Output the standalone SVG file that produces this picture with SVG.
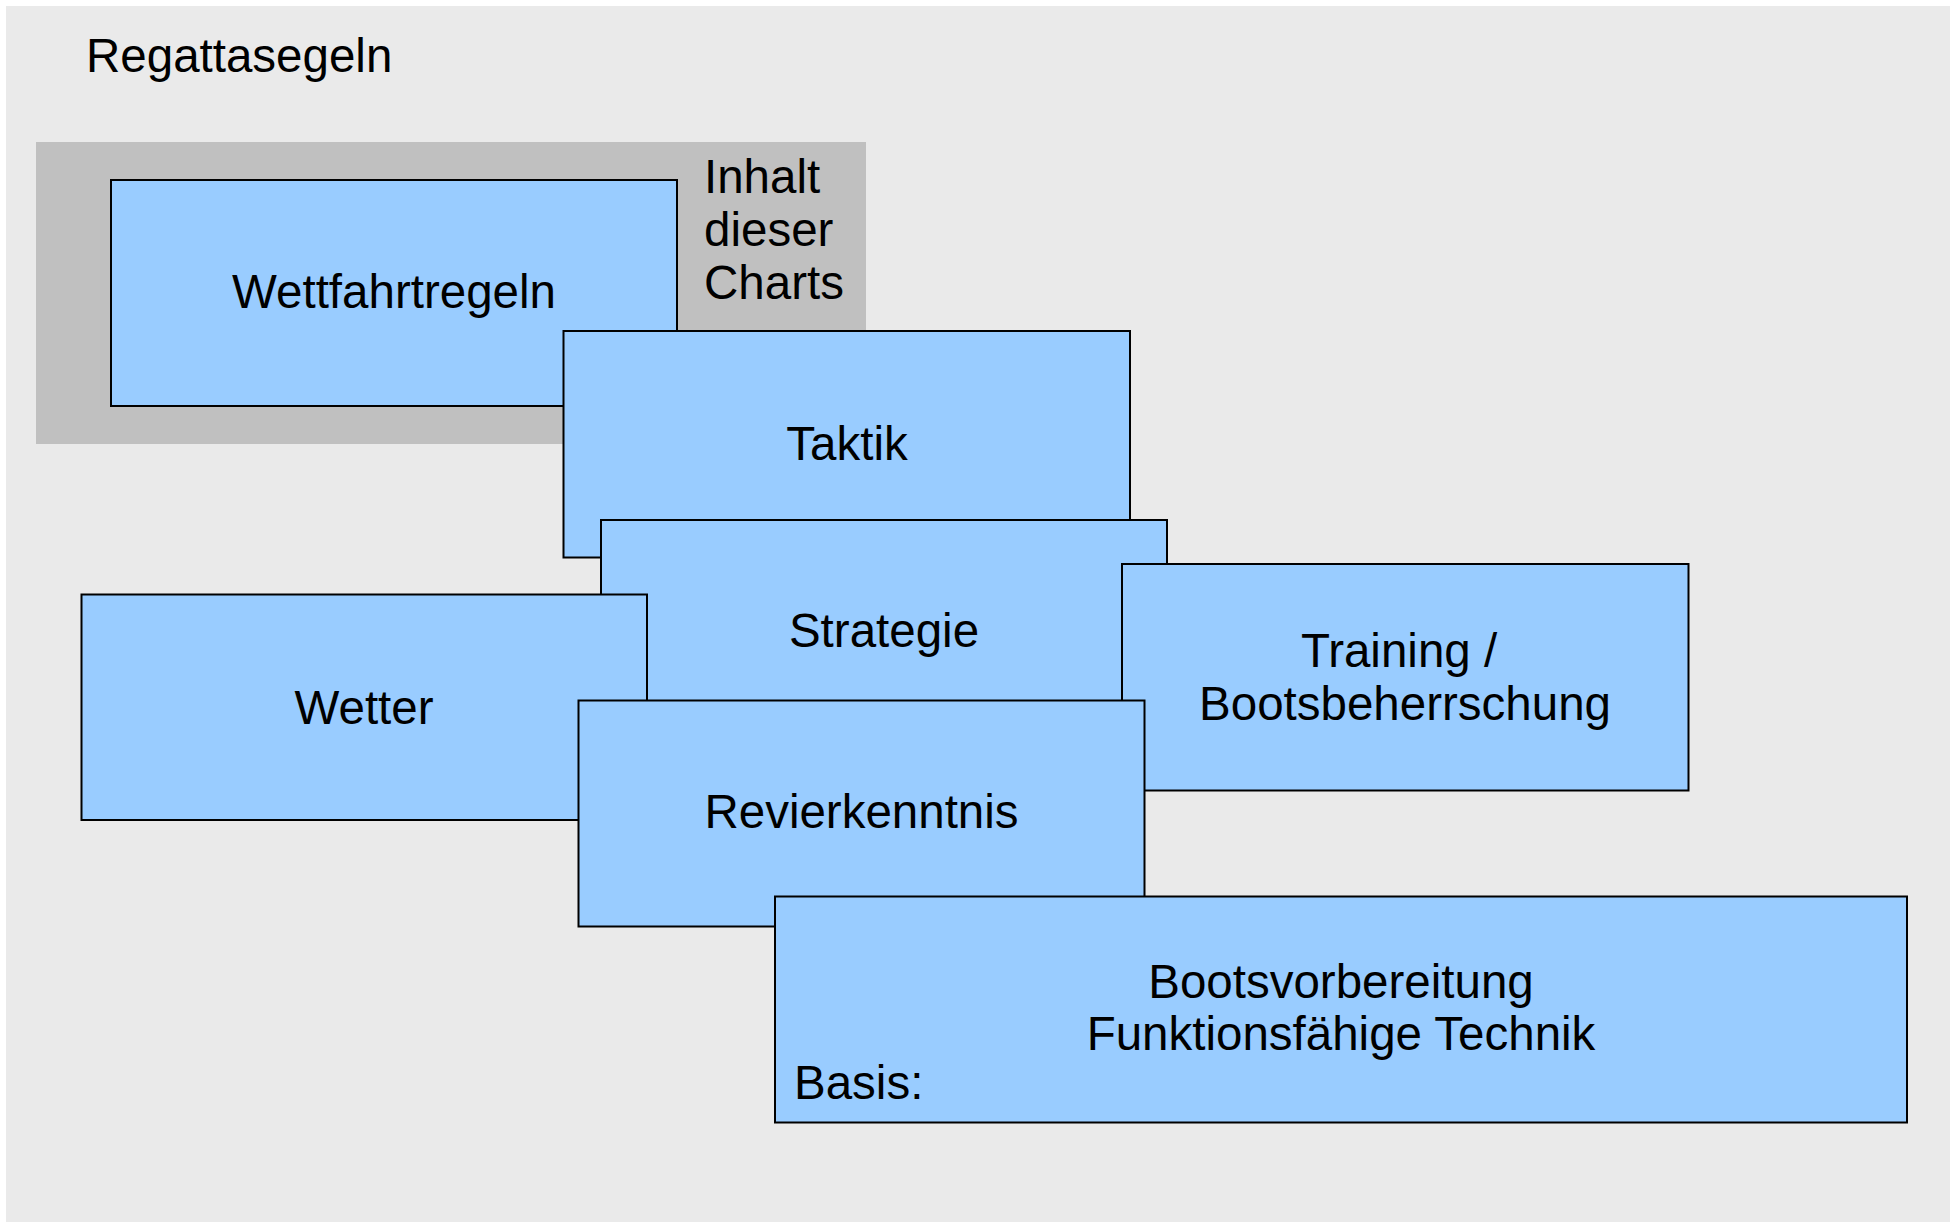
<svg xmlns="http://www.w3.org/2000/svg" width="1950" height="1222" viewBox="0 0 1950 1222">
<style>
.box{fill:#99CCFF;stroke:#000;stroke-width:2}
.t{font-family:"Liberation Sans",Arial,sans-serif;font-size:47.5px;fill:#000}
.c{text-anchor:middle}
</style>
<rect x="0" y="0" width="1950" height="1222" fill="#ffffff"/>
<rect x="6" y="6" width="1944" height="1216" fill="#EAEAEA"/>
<g id="title"><text class="t" x="86" y="72">Regattasegeln</text></g>
<g id="content-area">
<rect x="36" y="142" width="830" height="302" fill="#C0C0C0"/>
<text class="t" x="704" y="193">Inhalt</text>
<text class="t" x="704" y="246">dieser</text>
<text class="t" x="704" y="299">Charts</text>
</g>
<g id="connectors"></g>
<g id="wettfahrtregeln"><rect class="box" x="111" y="180" width="566" height="226"/><text class="t c" x="394" y="308">Wettfahrtregeln</text></g>
<g id="taktik"><rect class="box" x="563.5" y="331" width="566.5" height="226.5"/><text class="t c" x="847" y="460">Taktik</text></g>
<g id="strategie"><rect class="box" x="601" y="520" width="566" height="226.5"/><text class="t c" x="884" y="647">Strategie</text></g>
<g id="wetter"><rect class="box" x="81.5" y="594.5" width="565.5" height="225.5"/><text class="t c" x="364" y="724">Wetter</text></g>
<g id="training"><rect class="box" x="1122" y="564" width="566.5" height="226.5"/><text class="t c" x="1399" y="667">Training /</text><text class="t c" x="1405" y="720">Bootsbeherrschung</text></g>
<g id="revierkenntnis"><rect class="box" x="578.5" y="700.5" width="566" height="226"/><text class="t c" x="861.5" y="828">Revierkenntnis</text></g>
<g id="bootsvorbereitung"><rect class="box" x="775" y="896.5" width="1132" height="226"/><text class="t c" x="1341" y="998">Bootsvorbereitung</text><text class="t c" x="1341" y="1050">Funktionsfähige Technik</text><text class="t" x="794" y="1099">Basis:</text></g>
</svg>
